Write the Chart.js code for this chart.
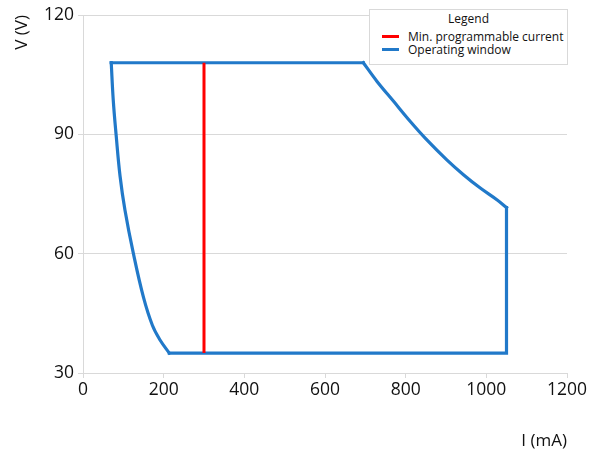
<!DOCTYPE html>
<html>
<head>
<meta charset="utf-8">
<script src="https://cdn.jsdelivr.net/npm/chart.js@4/dist/chart.umd.min.js"></script>
<style>
  html, body { margin: 0; padding: 0; background: #fff; }
  #wrap { position: relative; width: 592px; height: 457px; }
  #legend {
    position: absolute; left: 369px; top: 9px; width: 199px; height: 56px;
    border: 1px solid #d9d9d9; background: #fff; box-sizing: border-box;
    font-family: "Open Sans", sans-serif; font-size: 12px; color: #111;
  }
  #legend .ttl { text-align: center; margin-top: 1px; line-height: 16px; margin-bottom: 3px; }
  #legend .row { display: flex; align-items: center; height: 13px; line-height: 13px; padding-left: 12px; white-space: nowrap; }
  #legend .sw { width: 17px; height: 3px; margin-right: 9px; flex: none; }
</style>
</head>
<body>
<div id="wrap">
  <canvas id="myChart"></canvas>
  <div id="legend"></div>
</div>
<script>
// داده‌ها - خوانده شده از تصویر
// لبه‌ی چپ (منحنی) پنجره‌ی کاری
const leftCurrent = [214, 191, 172, 150, 125, 104, 92, 82, 75, 70];
const leftVoltage = [35, 38.3, 42, 49, 60, 71, 79.4, 90, 98.6, 108];
// لبه‌ی راست (منحنی)
const rightCurrent = [695, 729, 770, 811, 849, 902, 944, 985, 1027, 1050];
const rightVoltage = [108, 103.3, 98.3, 93.3, 89, 83.6, 79.8, 76.5, 73.5, 71.6];
// لبه‌های صاف: بالا، سپس راست و پایین
const edgeCurrent = [70, 695, null, 1050, 1050, 214];
const edgeVoltage = [108, 108, null, 71.6, 35, 35];
const minCurrent = [300, 300];
const minVoltage = [35, 108];
const xTicks = [0, 200, 400, 600, 800, 1000, 1200];
const yTicks = [30, 60, 90, 120];

const blue = '#2179c9';
const red = '#ff0000';
const gridColor = '#d9d9d9';
const fontFamily = '"Open Sans", sans-serif';

function toPoints(xs, ys) {
    return xs.map((x, i) => (x === null ? { x: NaN, y: NaN } : { x: x, y: ys[i] }));
}

function windowLine(points, tension) {
    return {
        label: 'Operating window',
        data: points,
        showLine: true,
        borderColor: blue,
        backgroundColor: blue,
        borderWidth: 3.2,
        pointRadius: 0,
        tension: tension,
        spanGaps: false,
        borderCapStyle: 'square',
        borderJoinStyle: 'miter'
    };
}

const ctx = document.getElementById('myChart').getContext('2d');
const chart = new Chart(ctx, {
    type: 'scatter',
    data: {
        datasets: [{
            label: 'Min. programmable current',
            data: toPoints(minCurrent, minVoltage),
            showLine: true,
            borderColor: red,
            backgroundColor: red,
            borderWidth: 3,
            pointRadius: 0
        },
        windowLine(toPoints(edgeCurrent, edgeVoltage), 0),
        windowLine(toPoints(leftCurrent, leftVoltage), 0.4),
        windowLine(toPoints(rightCurrent, rightVoltage), 0.35)]
    },
    options: {
        responsive: true,
        maintainAspectRatio: false,
        animation: false,
        layout: { padding: { top: 15, right: 25, left: 0, bottom: 0 } },
        plugins: {
            legend: { display: false },
            tooltip: { enabled: false }
        },
        scales: {
            x: {
                type: 'linear',
                min: xTicks[0],
                max: xTicks[xTicks.length - 1],
                afterBuildTicks: (s) => { s.ticks = xTicks.map(v => ({ value: v })); },
                afterFit: (s) => { s.height = 84; },
                grid: { drawOnChartArea: false, drawTicks: true, tickLength: 5, color: gridColor },
                border: { color: gridColor },
                ticks: { color: '#111', padding: 2, font: { family: fontFamily, size: 17.5 }, callback: (v) => String(v) },
                title: {
                    display: true, text: 'I (mA)', align: 'end', color: '#111',
                    font: { family: fontFamily, size: 17 }, padding: { top: 0, bottom: 6 }
                }
            },
            y: {
                type: 'linear',
                min: yTicks[0],
                max: yTicks[yTicks.length - 1],
                afterBuildTicks: (s) => { s.ticks = yTicks.map(v => ({ value: v })); },
                afterFit: (s) => { s.width = 83; },
                grid: { color: gridColor, tickLength: 5 },
                border: { color: gridColor },
                ticks: { color: '#111', padding: 4, font: { family: fontFamily, size: 17.5 }, callback: (v) => String(v) },
                title: {
                    display: true, text: 'V (V)', align: 'end', color: '#111',
                    font: { family: fontFamily, size: 17 }, padding: { top: 12, bottom: 0 }
                }
            }
        }
    }
});

// لجند دستی داخل ناحیه نمودار (یک ردیف برای هر برچسب)
const legendBox = document.getElementById('legend');
let html = '<div class="ttl">Legend</div>';
const seen = {};
chart.data.datasets.forEach(ds => {
    if (seen[ds.label]) return;
    seen[ds.label] = true;
    html += '<div class="row"><span class="sw" style="background:' + ds.borderColor + '"></span>' + ds.label + '</div>';
});
legendBox.innerHTML = html;
</script>
</body>
</html>
